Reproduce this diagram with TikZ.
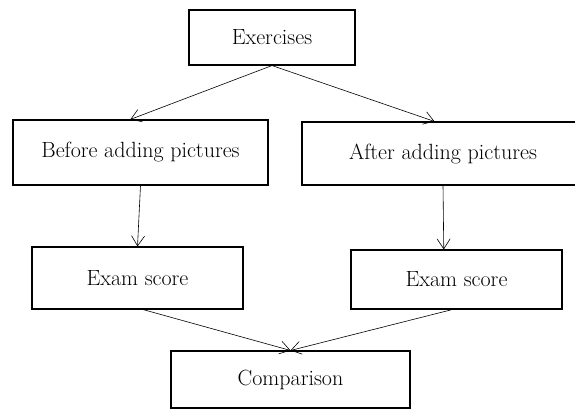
\documentclass[tikz,border=0pt]{standalone}
\usetikzlibrary{arrows.meta,calc}
\begin{document}
\begin{tikzpicture}[x=1pt,y=-1pt,
  box/.style={draw,line width=1.1pt,inner sep=0pt,font=\fontsize{22}{26}\selectfont},
  conn/.style={line width=0.6pt,-{Straight Barb[length=10pt,width=13pt]}}]
\useasboundingbox (0,0) rectangle (575,410);
\clip (0,0) rectangle (575,410);
\node[box,minimum width=166pt,minimum height=55pt] (ex) at (272,37.5) {Exercises};
\node[box,minimum width=255pt,minimum height=65pt] (bef) at (140.5,152.5) {Before adding pictures};
\node[box,minimum width=282pt,minimum height=63pt] (aft) at (443,153.5) {After adding pictures};
\node[box,minimum width=211pt,minimum height=62pt] (ex1) at (137.5,278) {Exam score};
\node[box,minimum width=211pt,minimum height=59pt] (ex2) at (456.5,279.5) {Exam score};
\node[box,minimum width=239pt,minimum height=57pt] (cmp) at (290.5,379.5) {Comparison};
\draw[conn] (ex.south) -- ($(bef.north west)!0.46!(bef.north east)$);
\draw[conn] (ex.south) -- ($(aft.north west)!0.47!(aft.north east)$);
\draw[conn] (bef.south) -- (ex1.north);
\draw[conn] (aft.south) -- ($(ex2.north west)!0.44!(ex2.north east)$);
\draw[conn] ($(ex1.south west)!0.526!(ex1.south east)$) -- (cmp.north);
\draw[conn] ($(ex2.south west)!0.48!(ex2.south east)$) -- (cmp.north);
\end{tikzpicture}
\end{document}
